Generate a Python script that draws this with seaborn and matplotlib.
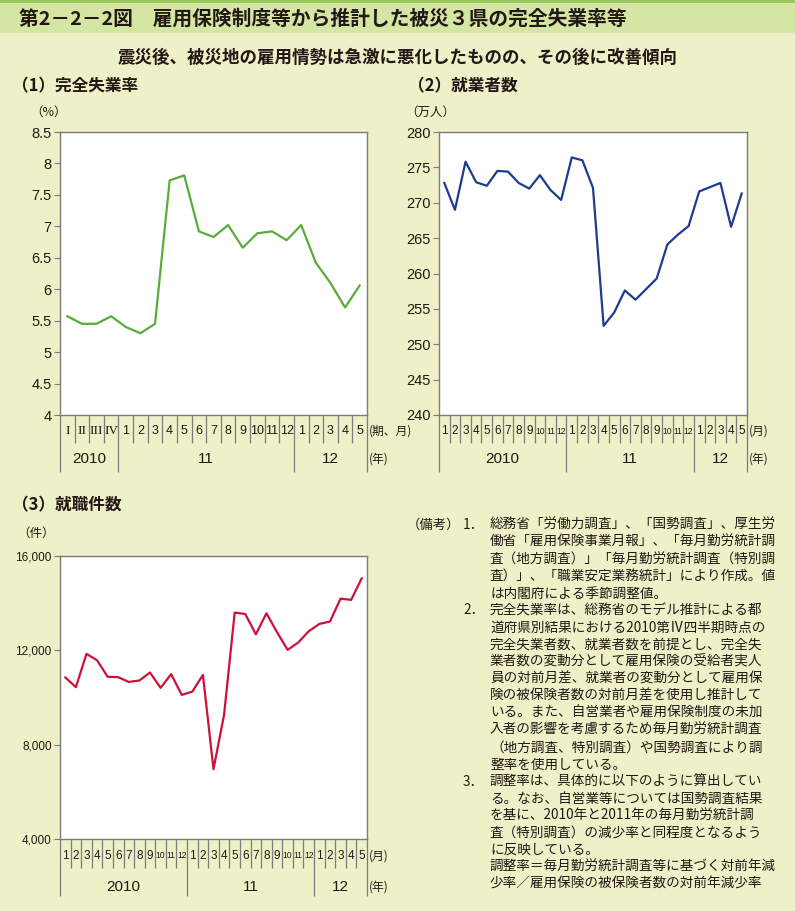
import numpy as np
import pandas as pd
import matplotlib
matplotlib.use("Agg")
import matplotlib.pyplot as plt
import seaborn as sns
from matplotlib import font_manager
from matplotlib.patches import Rectangle
from matplotlib.transforms import blended_transform_factory

# ---------------- data ----------------
p1_periods = ["I", "II", "III", "IV",
              "1", "2", "3", "4", "5", "6", "7", "8", "9", "10", "11", "12",
              "1", "2", "3", "4", "5"]
p1_years = ["2010", "11", "12"]
p1_year_spans = [4, 12, 5]
unemployment_rate = [5.57, 5.45, 5.45, 5.57,
                     5.40, 5.30, 5.45, 7.73, 7.81, 6.92, 6.83, 7.02, 6.66, 6.89, 6.92, 6.78,
                     7.02, 6.42, 6.10, 5.71, 6.06]

monthly_periods = ["1", "2", "3", "4", "5", "6", "7", "8", "9", "10", "11", "12",
                   "1", "2", "3", "4", "5", "6", "7", "8", "9", "10", "11", "12",
                   "1", "2", "3", "4", "5"]
monthly_years = ["2010", "11", "12"]
monthly_year_spans = [12, 12, 5]
employed_10k = [272.8, 269.0, 275.8, 272.9, 272.4, 274.5, 274.4, 272.8, 272.0, 273.9, 271.8, 270.4,
                276.4, 276.0, 272.1, 252.6, 254.5, 257.6, 256.3, 257.8, 259.3, 264.1, 265.5, 266.7,
                271.6, 272.2, 272.8, 266.6, 271.3]
job_placements = [10850, 10440, 11850, 11580, 10880, 10860, 10660, 10720, 11060, 10410, 10990, 10110,
                  10250, 10960, 6960, 9270, 13600, 13540, 12680, 13570, 12770, 12020, 12330, 12810,
                  13120, 13220, 14190, 14140, 15050]

p1_yticks = [4, 4.5, 5, 5.5, 6, 6.5, 7, 7.5, 8, 8.5]
p1_yticklabels = ["4", "4.5", "5", "5.5", "6", "6.5", "7", "7.5", "8", "8.5"]
p2_yticks = [240, 245, 250, 255, 260, 265, 270, 275, 280]
p2_yticklabels = ["240", "245", "250", "255", "260", "265", "270", "275", "280"]
p3_yticks = [4000, 8000, 12000, 16000]
p3_yticklabels = ["4,000", "8,000", "12,000", "16,000"]

title = "第2－2－2図　雇用保険制度等から推計した被災３県の完全失業率等"
subtitle = "震災後、被災地の雇用情勢は急激に悪化したものの、その後に改善傾向"
panel_titles = ["（1）完全失業率", "（2）就業者数", "（3）就職件数"]
unit_labels = ["（%）", "（万人）", "（件）"]

notes_head = "（備考）"
notes = [
    ("1．", ["総務省「労働力調査」、「国勢調査」、厚生労",
             "働省「雇用保険事業月報」、「毎月勤労統計調",
             "査（地方調査）」「毎月勤労統計調査（特別調",
             "査）」、「職業安定業務統計」により作成。値",
             "は内閣府による季節調整値。"]),
    ("2．", ["完全失業率は、総務省のモデル推計による都",
             "道府県別結果における2010第Ⅳ四半期時点の",
             "完全失業者数、就業者数を前提とし、完全失",
             "業者数の変動分として雇用保険の受給者実人",
             "員の対前月差、就業者の変動分として雇用保",
             "険の被保険者数の対前月差を使用し推計して",
             "いる。また、自営業者や雇用保険制度の未加",
             "入者の影響を考慮するため毎月勤労統計調査",
             "（地方調査、特別調査）や国勢調査により調",
             "整率を使用している。"]),
    ("3．", ["調整率は、具体的に以下のように算出してい",
             "る。なお、自営業等については国勢調査結果",
             "を基に、2010年と2011年の毎月勤労統計調",
             "査（特別調査）の減少率と同程度となるよう",
             "に反映している。",
             "調整率＝毎月勤労統計調査等に基づく対前年減",
             "少率／雇用保険の被保険者数の対前年減少率"]),
]

# ---------------- style ----------------
BG = "#EEF0C8"
BAND = "#D4E5A4"
TOPLINE = "#9CC75C"
TXT = "#231815"
SPINE = "#7C7C7C"
GREEN = "#5AAA3C"
BLUE = "#1E3C8E"
RED = "#CC1238"
JP = ["Noto Sans CJK JP", "DejaVu Sans"]

plt.rcParams["font.family"] = ["Liberation Sans", "Noto Sans CJK JP", "DejaVu Sans"]

_names = {f.name for f in font_manager.fontManager.ttflist}
HAS_NARROW = "Liberation Sans Narrow" in _names

W, H = 795, 911
fig = plt.figure(figsize=(W / 100, H / 100), dpi=100)
fig.patch.set_facecolor(BG)


def fx(x):
    return x / W


def fy(y):
    return 1 - y / H


fig.add_artist(Rectangle((0, fy(33)), 1, 30 / H, transform=fig.transFigure,
                         facecolor=BAND, edgecolor="none", zorder=0))
fig.add_artist(Rectangle((0, fy(3)), 1, 3 / H, transform=fig.transFigure,
                         facecolor=TOPLINE, edgecolor="none", zorder=0))

fig.text(fx(19), fy(19), title, fontsize=14.2, fontweight="bold", family=JP,
         color=TXT, va="center", ha="left")
fig.text(fx(398), fy(58), subtitle, fontsize=12.6, fontweight="bold", family=JP,
         color=TXT, va="center", ha="center")
fig.text(fx(12), fy(86), panel_titles[0], fontsize=12, fontweight="bold", family=JP,
         color=TXT, va="center", ha="left")
fig.text(fx(408), fy(86), panel_titles[1], fontsize=12, fontweight="bold", family=JP,
         color=TXT, va="center", ha="left")
fig.text(fx(12), fy(505), panel_titles[2], fontsize=12, fontweight="bold", family=JP,
         color=TXT, va="center", ha="left")
fig.text(fx(30), fy(112), unit_labels[0], fontsize=9, family=JP, color=TXT, va="center", ha="left")
fig.text(fx(405), fy(112), unit_labels[1], fontsize=9, family=JP, color=TXT, va="center", ha="left")
fig.text(fx(17), fy(533), unit_labels[2], fontsize=9, family=JP, color=TXT, va="center", ha="left")


def px_axes(x0, y0, x1, y1):
    return fig.add_axes([fx(x0), fy(y1), (x1 - x0) / W, (y1 - y0) / H])


def draw_panel(ax, periods, values, years, spans, color, ylim, yticks, yticklabels,
               tick_fs, h_px, label_dy, year_dy, month_len, year_len, narrow):
    n = len(values)
    df = pd.DataFrame({"pos": np.arange(n), "value": values})
    sns.lineplot(data=df, x="pos", y="value", ax=ax, color=color, linewidth=1.6)
    ax.set_xlim(-0.5, n - 0.5)
    ax.set_ylim(*ylim)
    ax.autoscale(False)
    ax.set_xticks([])
    ax.set_yticks(yticks)
    ax.set_yticklabels(yticklabels)
    ax.set_xlabel("")
    ax.set_ylabel("")
    ax.set_facecolor("white")
    for s in ax.spines.values():
        s.set_color(SPINE)
        s.set_linewidth(1.0)
    ax.tick_params(axis="y", direction="out", length=4, width=0.8, color=SPINE,
                   labelsize=tick_fs, labelcolor=TXT, pad=2)
    tr = blended_transform_factory(ax.transData, ax.transAxes)
    bounds = set(np.cumsum([0] + spans).tolist())
    for b in range(n + 1):
        L = year_len if b in bounds else month_len
        ax.plot([b - 0.5, b - 0.5], [0, -L / h_px], transform=tr, color=SPINE,
                lw=0.9, clip_on=False, solid_capstyle="butt")
    for i, lab in enumerate(periods):
        if lab in ("I", "II", "III", "IV"):
            fam, fs = ["Liberation Serif", "DejaVu Serif"], 9.5
        elif narrow:
            if HAS_NARROW:
                fam, fs = ["Liberation Sans Narrow", "Liberation Sans"], 8.5
            else:
                fam, fs = ["Liberation Sans"], (6.2 if len(lab) > 1 else 8.5)
        else:
            fam, fs = ["Liberation Sans"], 9
        ax.text(i, -label_dy / h_px, lab, transform=tr, ha="center", va="center",
                fontsize=fs, family=fam, color=TXT, clip_on=False)
    start = 0
    for yl, sp in zip(years, spans):
        ax.text(start + sp / 2 - 0.5, -year_dy / h_px, yl, transform=tr, ha="center",
                va="center", fontsize=11, color=TXT, clip_on=False)
        start += sp


ax1 = px_axes(60, 132, 367, 415)
draw_panel(ax1, p1_periods, unemployment_rate, p1_years, p1_year_spans, GREEN,
           (4, 8.5), p1_yticks, p1_yticklabels, 10.5, 283, 16, 44, 28, 57, False)
ax2 = px_axes(439, 132, 747, 415)
draw_panel(ax2, monthly_periods, employed_10k, monthly_years, monthly_year_spans, BLUE,
           (240, 280), p2_yticks, p2_yticklabels, 10.5, 283, 16, 44, 28, 57, True)
ax3 = px_axes(60, 556, 367, 839)
draw_panel(ax3, monthly_periods, job_placements, monthly_years, monthly_year_spans, RED,
           (4000, 16000), p3_yticks, p3_yticklabels, 8.5, 283, 17, 48, 29, 57, True)

# period / year unit labels on the right of each axis
for x, y1, y2, s1 in [(369, 431, 459, "(期、月)"), (749, 431, 459, "(月)"), (369, 856, 887, "(月)")]:
    fig.text(fx(x), fy(y1), s1, fontsize=8.5, family=JP, color=TXT, va="center", ha="left")
    fig.text(fx(x), fy(y2), "(年)", fontsize=8.5, family=JP, color=TXT, va="center", ha="left")

# notes
line_h = 17.1
y0 = 525
fig.text(fx(407), fy(y0), notes_head, fontsize=9.6, family=JP, color=TXT, va="center", ha="left")
k = 0
for num, lines in notes:
    fig.text(fx(463), fy(y0 + k * line_h), num, fontsize=9.8, family=JP, color=TXT,
             va="center", ha="left")
    for ln in lines:
        fig.text(fx(490), fy(y0 + k * line_h), ln, fontsize=9.8, family=JP, color=TXT,
                 va="center", ha="left")
        k += 1

fig.savefig("out.png", dpi=100, facecolor=BG)
